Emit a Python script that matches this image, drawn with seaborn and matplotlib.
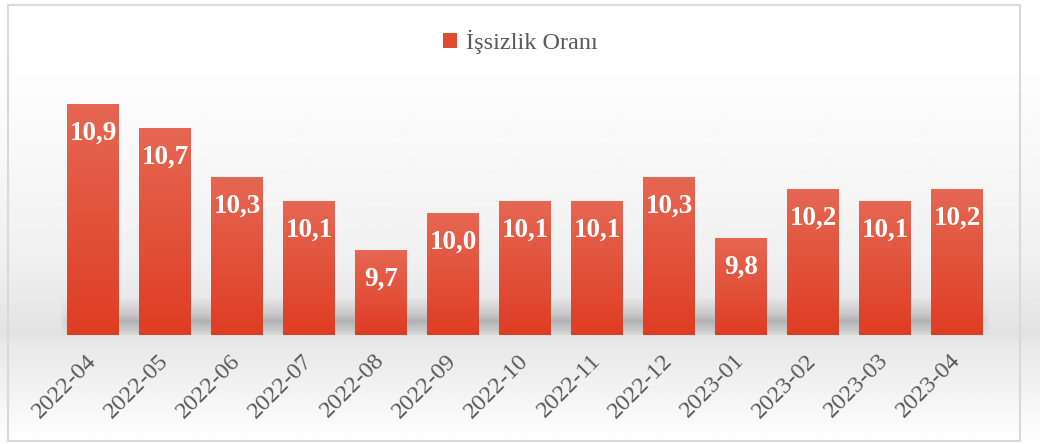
import numpy as np
import pandas as pd
import matplotlib
matplotlib.use("Agg")
import matplotlib.pyplot as plt
from matplotlib.patches import Patch, Rectangle
from matplotlib.colors import LinearSegmentedColormap
import seaborn as sns

months = ["2022-04", "2022-05", "2022-06", "2022-07", "2022-08", "2022-09", "2022-10",
          "2022-11", "2022-12", "2023-01", "2023-02", "2023-03", "2023-04"]
rates = [10.9, 10.7, 10.3, 10.1, 9.7, 10.0, 10.1, 10.1, 10.3, 9.8, 10.2, 10.1, 10.2]
series_name = "İşsizlik Oranı"

df = pd.DataFrame({"Ay": months, "Oran": rates})

sns.set_theme(style="white")
plt.rcParams["font.family"] = ["Liberation Serif", "DejaVu Serif"]

fig = plt.figure(figsize=(10.4, 4.44), dpi=100)

# background gradient for whole figure
bg = fig.add_axes([0, 0, 1, 1], zorder=-2)
yy = np.linspace(0, 444, 444)
shade = np.interp(yy, [0, 40, 150, 260, 335, 345, 400, 444],
                  [1.0, 1.0, 0.975, 0.94, 0.89, 0.91, 0.96, 1.0])
img = np.repeat(shade[:, None], 10, axis=1)
bg.imshow(img, cmap="gray", vmin=0, vmax=1, aspect="auto", extent=[0, 1, 0, 1], origin="upper")
bg.set_axis_off()
fig.add_artist(Rectangle((8 / 1040, 3 / 444), 1012 / 1040, 436 / 444, transform=fig.transFigure,
                         fill=False, edgecolor="#D9D9D9", linewidth=1.5))

ax = fig.add_axes([0.055, 0.245, 0.9, 0.686])
ax.set_facecolor("none")

sns.barplot(data=df, x="Ay", y="Oran", color="#E04A33", width=0.72, ax=ax, zorder=3, linewidth=0)

# floor shadow
h = np.linspace(0, 1, 60)
alpha_v = np.interp(h, [0, 0.35, 0.55, 1.0], [0.10, 0.45, 0.25, 0.0])
w = np.linspace(0, 1, 200)
alpha_h = np.clip(np.minimum(w, 1 - w) / 0.02, 0, 1)
rgba = np.zeros((60, 200, 4))
rgba[..., :3] = 0.45
rgba[..., 3] = alpha_v[:, None] * alpha_h[None, :]
ax.imshow(rgba, extent=[-0.5, 12.5, 9.0, 9.32], origin="lower", aspect="auto", zorder=1)

# gradient fill for each bar
grad = np.linspace(0, 1, 100)[:, None]
bar_cmap = LinearSegmentedColormap.from_list("bar", ["#DE3D23", "#E66753"])
for p in ax.patches:
    x0, y0 = p.get_x(), p.get_y()
    pw, ph = p.get_width(), p.get_height()
    im = ax.imshow(grad, cmap=bar_cmap, extent=[x0, x0 + pw, 9.0, y0 + ph], origin="lower",
                   aspect="auto", zorder=4)
    im.set_clip_path(p)

ax.set_ylim(9.0, 11.5)
ax.set_xlim(-0.5, 12.5)

for i, v in enumerate(rates):
    ax.annotate(f"{v:.1f}".replace(".", ","), (i, v), xytext=(0, -21), textcoords="offset points",
                ha="center", va="center", color="white", fontsize=19.5, fontweight="bold", zorder=5)

ax.set_yticks([])
ax.set_xlabel("")
ax.set_ylabel("")
for s in ax.spines.values():
    s.set_visible(False)
ax.tick_params(axis="x", length=0, pad=16, labelsize=17.5, labelcolor="#595959")
plt.setp(ax.get_xticklabels(), rotation=45, ha="right", va="center", rotation_mode="anchor")

fig.legend(handles=[Patch(facecolor="#E04A33", edgecolor="none")], labels=[series_name],
           loc="center", bbox_to_anchor=(0.5, 0.905), frameon=False, fontsize=17.5,
           handlelength=0.6, handleheight=0.6, handletextpad=0.35, labelcolor="#595959")

fig.savefig("out.png", dpi=100)
